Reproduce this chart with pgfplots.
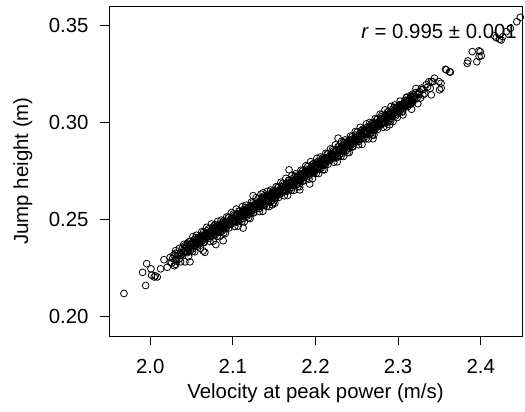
\documentclass[border=0pt]{standalone}
\usepackage{fontspec}
\setmainfont{Liberation Sans}
\usepackage{pgfplots}
\pgfplotsset{compat=1.18}
\begin{document}
\begin{tikzpicture}[font=\fontsize{20.4}{24}\selectfont]
\begin{axis}[
  scale only axis, width=413pt, height=330pt,
  xmin=1.95, xmax=2.45, ymin=0.19, ymax=0.36,
  axis line style={line width=0.9pt},
  tick style={line width=0.9pt, black},
  major tick length=9pt, tick align=outside,
  xtick pos=bottom, ytick pos=left,
  xtick={2.0,2.1,2.2,2.3,2.4}, ytick={0.20,0.25,0.30,0.35},
  /pgf/number format/assume math mode=true,
  xticklabel style={yshift=-11pt, /pgf/number format/fixed, /pgf/number format/fixed zerofill, /pgf/number format/precision=1},
  yticklabel style={xshift=-8pt, /pgf/number format/fixed, /pgf/number format/fixed zerofill, /pgf/number format/precision=2},
  tick label style={font=\fontsize{20.4}{24}\selectfont},
  label style={font=\fontsize{20.4}{24}\selectfont},
  xlabel={Velocity at peak power (m/s)},
  ylabel={Jump height (m)},
  xlabel style={at={(axis description cs:0.5,-0.1909)}, anchor=base},
  ylabel style={at={(axis description cs:-0.196,0.5)}, anchor=base, rotate=0},
  clip=true,
]
\addplot[only marks, mark=o, mark size=3.4pt, black, mark options={line width=0.8pt}] table {
x y
1.9681 0.2119
1.9944 0.2160
1.9907 0.2228
1.9956 0.2273
2.0008 0.2246
2.0016 0.2213
2.0048 0.2204
2.0060 0.2210
2.0084 0.2204
2.0125 0.2246
2.0165 0.2293
2.0205 0.2254
2.0241 0.2280
2.0240 0.2305
2.0258 0.2276
2.0270 0.2300
2.0285 0.2318
2.0290 0.2262
2.0307 0.2340
2.0319 0.2285
2.0367 0.2282
2.0419 0.2282
2.0451 0.2379
2.0480 0.2282
2.0580 0.2396
2.0640 0.2338
2.0661 0.2331
2.0782 0.2473
2.0794 0.2371
2.0882 0.2391
2.1124 0.2456
2.1245 0.2623
2.1366 0.2637
2.1479 0.2576
2.1680 0.2756
2.1810 0.2653
2.1930 0.2683
2.2273 0.2919
2.2696 0.2916
2.2898 0.2988
2.3059 0.3039
2.3100 0.3128
2.3300 0.3142
2.0302 0.2293
2.0308 0.2269
2.0331 0.2316
2.0352 0.2298
2.0368 0.2317
2.0393 0.2330
2.0405 0.2372
2.0411 0.2333
2.0435 0.2361
2.0446 0.2334
2.0463 0.2309
2.0474 0.2387
2.0486 0.2341
2.0497 0.2369
2.0501 0.2372
2.0509 0.2335
2.0516 0.2412
2.0527 0.2360
2.0533 0.2397
2.0539 0.2334
2.0551 0.2382
2.0558 0.2419
2.0571 0.2363
2.0579 0.2406
2.0602 0.2376
2.0613 0.2414
2.0608 0.2352
2.0624 0.2437
2.0631 0.2399
2.0643 0.2433
2.0652 0.2381
2.0661 0.2418
2.0668 0.2400
2.0682 0.2460
2.0693 0.2413
2.0705 0.2452
2.0711 0.2413
2.0722 0.2387
2.0735 0.2441
2.0741 0.2477
2.0746 0.2414
2.0755 0.2452
2.0763 0.2389
2.0774 0.2467
2.0786 0.2421
2.0797 0.2449
2.0801 0.2450
2.0809 0.2413
2.0816 0.2490
2.0827 0.2438
2.0833 0.2475
2.0839 0.2412
2.0851 0.2460
2.0858 0.2497
2.0871 0.2441
2.0879 0.2484
2.0889 0.2432
2.0902 0.2452
2.0913 0.2490
2.0908 0.2428
2.0924 0.2513
2.0931 0.2475
2.0943 0.2509
2.0952 0.2457
2.0961 0.2494
2.0968 0.2476
2.0982 0.2536
2.0993 0.2489
2.1005 0.2529
2.1011 0.2490
2.1022 0.2464
2.1035 0.2518
2.1041 0.2554
2.1046 0.2491
2.1055 0.2529
2.1063 0.2466
2.1074 0.2544
2.1086 0.2498
2.1097 0.2526
2.1101 0.2527
2.1109 0.2490
2.1116 0.2567
2.1127 0.2515
2.1133 0.2552
2.1139 0.2489
2.1151 0.2537
2.1158 0.2574
2.1171 0.2518
2.1179 0.2561
2.1189 0.2509
2.1202 0.2529
2.1213 0.2567
2.1208 0.2505
2.1224 0.2590
2.1231 0.2552
2.1243 0.2586
2.1252 0.2534
2.1261 0.2571
2.1268 0.2553
2.1282 0.2613
2.1293 0.2566
2.1305 0.2606
2.1311 0.2567
2.1322 0.2541
2.1335 0.2595
2.1341 0.2631
2.1346 0.2568
2.1355 0.2606
2.1363 0.2543
2.1374 0.2621
2.1386 0.2575
2.1397 0.2603
2.1401 0.2605
2.1409 0.2568
2.1416 0.2645
2.1427 0.2593
2.1433 0.2630
2.1439 0.2567
2.1451 0.2615
2.1458 0.2652
2.1471 0.2596
2.1479 0.2639
2.1489 0.2587
2.1502 0.2608
2.1513 0.2646
2.1508 0.2584
2.1524 0.2669
2.1531 0.2631
2.1543 0.2665
2.1552 0.2613
2.1561 0.2650
2.1568 0.2632
2.1582 0.2692
2.1593 0.2645
2.1605 0.2687
2.1611 0.2648
2.1622 0.2622
2.1635 0.2676
2.1641 0.2712
2.1646 0.2649
2.1655 0.2687
2.1663 0.2624
2.1674 0.2702
2.1686 0.2656
2.1697 0.2684
2.1701 0.2688
2.1709 0.2651
2.1716 0.2728
2.1727 0.2676
2.1733 0.2713
2.1739 0.2650
2.1751 0.2698
2.1758 0.2735
2.1771 0.2679
2.1779 0.2722
2.1789 0.2670
2.1802 0.2693
2.1813 0.2731
2.1808 0.2669
2.1824 0.2754
2.1831 0.2716
2.1843 0.2750
2.1852 0.2698
2.1861 0.2735
2.1868 0.2717
2.1882 0.2777
2.1893 0.2730
2.1905 0.2773
2.1911 0.2734
2.1922 0.2708
2.1935 0.2762
2.1941 0.2798
2.1946 0.2735
2.1955 0.2773
2.1963 0.2710
2.1974 0.2788
2.1986 0.2742
2.1997 0.2770
2.2001 0.2775
2.2009 0.2738
2.2016 0.2815
2.2027 0.2763
2.2033 0.2800
2.2039 0.2737
2.2051 0.2785
2.2058 0.2822
2.2071 0.2766
2.2079 0.2809
2.2089 0.2757
2.2102 0.2780
2.2113 0.2818
2.2108 0.2756
2.2124 0.2841
2.2131 0.2803
2.2143 0.2837
2.2152 0.2785
2.2161 0.2822
2.2168 0.2804
2.2182 0.2864
2.2193 0.2817
2.2205 0.2860
2.2211 0.2821
2.2222 0.2795
2.2235 0.2849
2.2241 0.2885
2.2246 0.2822
2.2255 0.2860
2.2263 0.2797
2.2274 0.2875
2.2286 0.2829
2.2297 0.2857
2.2301 0.2863
2.2309 0.2826
2.2316 0.2903
2.2327 0.2851
2.2333 0.2888
2.2339 0.2825
2.2351 0.2873
2.2358 0.2910
2.2371 0.2854
2.2379 0.2897
2.2389 0.2845
2.2402 0.2869
2.2413 0.2907
2.2408 0.2845
2.2424 0.2930
2.2431 0.2892
2.2443 0.2926
2.2452 0.2874
2.2461 0.2911
2.2468 0.2893
2.2482 0.2953
2.2493 0.2906
2.2505 0.2950
2.2511 0.2911
2.2522 0.2885
2.2535 0.2939
2.2541 0.2975
2.2546 0.2912
2.2555 0.2950
2.2563 0.2887
2.2574 0.2965
2.2586 0.2919
2.2597 0.2947
2.2601 0.2953
2.2609 0.2916
2.2616 0.2993
2.2627 0.2941
2.2633 0.2978
2.2639 0.2915
2.2651 0.2963
2.2658 0.3000
2.2671 0.2944
2.2679 0.2987
2.2689 0.2935
2.2702 0.2959
2.2713 0.2997
2.2708 0.2935
2.2724 0.3020
2.2731 0.2982
2.2743 0.3016
2.2752 0.2964
2.2761 0.3001
2.2768 0.2983
2.2782 0.3043
2.2793 0.2996
2.2805 0.3040
2.2811 0.3001
2.2822 0.2975
2.2835 0.3029
2.2841 0.3065
2.2846 0.3002
2.2855 0.3040
2.2863 0.2977
2.2874 0.3055
2.2886 0.3009
2.2897 0.3037
2.2901 0.3043
2.2909 0.3006
2.2916 0.3083
2.2927 0.3031
2.2933 0.3068
2.2939 0.3005
2.2951 0.3053
2.2958 0.3090
2.2971 0.3034
2.2979 0.3077
2.2989 0.3025
2.3002 0.3049
2.3013 0.3087
2.3024 0.3110
2.3031 0.3072
2.3052 0.3054
2.3061 0.3091
2.3068 0.3073
2.3082 0.3098
2.3093 0.3086
2.3105 0.3131
2.3111 0.3092
2.3135 0.3120
2.3146 0.3093
2.3155 0.3131
2.3163 0.3068
2.3174 0.3146
2.3197 0.3128
2.3201 0.3135
2.3216 0.3175
2.3227 0.3123
2.3239 0.3097
2.3251 0.3145
2.3271 0.3126
2.3279 0.3169
2.3305 0.3170
2.3322 0.3148
2.3341 0.3195
2.3358 0.3183
2.3372 0.3210
2.3389 0.3176
2.3402 0.3211
2.3402 0.3142
2.3420 0.3210
2.3440 0.3228
2.3494 0.3211
2.3502 0.3168
2.3520 0.3202
2.3522 0.3177
2.3575 0.3274
2.3584 0.3271
2.3623 0.3262
2.3632 0.3259
2.3837 0.3305
2.3845 0.3317
2.3898 0.3365
2.3953 0.3313
2.3978 0.3369
2.3980 0.3340
2.3994 0.3365
2.4007 0.3343
2.4167 0.3446
2.4188 0.3437
2.4228 0.3429
2.4248 0.3425
2.4268 0.3442
2.4310 0.3468
2.4360 0.3485
2.4437 0.3519
2.4480 0.3542
2.0306 0.2326
2.0318 0.2295
2.0329 0.2324
2.0340 0.2314
2.0353 0.2352
2.0364 0.2328
2.0377 0.2317
2.0390 0.2353
2.0403 0.2333
2.0414 0.2364
2.0425 0.2333
2.0437 0.2359
2.0448 0.2329
2.0459 0.2368
2.0470 0.2356
2.0484 0.2387
2.0506 0.2381
2.0518 0.2350
2.0529 0.2379
2.0540 0.2369
2.0553 0.2407
2.0564 0.2383
2.0577 0.2372
2.0590 0.2408
2.0603 0.2388
2.0614 0.2419
2.0625 0.2388
2.0637 0.2414
2.0648 0.2384
2.0659 0.2423
2.0670 0.2411
2.0684 0.2442
2.0706 0.2434
2.0718 0.2403
2.0729 0.2432
2.0740 0.2422
2.0753 0.2460
2.0764 0.2436
2.0777 0.2425
2.0790 0.2461
2.0803 0.2438
2.0814 0.2469
2.0825 0.2438
2.0837 0.2464
2.0848 0.2434
2.0859 0.2473
2.0870 0.2461
2.0884 0.2492
2.0906 0.2485
2.0918 0.2454
2.0929 0.2483
2.0940 0.2473
2.0953 0.2511
2.0964 0.2487
2.0977 0.2476
2.0990 0.2512
2.1003 0.2490
2.1014 0.2521
2.1025 0.2490
2.1037 0.2516
2.1048 0.2486
2.1059 0.2525
2.1070 0.2513
2.1084 0.2544
2.1106 0.2536
2.1118 0.2505
2.1129 0.2534
2.1140 0.2524
2.1153 0.2562
2.1164 0.2538
2.1177 0.2527
2.1190 0.2563
2.1203 0.2541
2.1214 0.2572
2.1225 0.2541
2.1237 0.2567
2.1248 0.2537
2.1259 0.2576
2.1270 0.2564
2.1284 0.2595
2.1306 0.2588
2.1318 0.2557
2.1329 0.2586
2.1340 0.2576
2.1353 0.2614
2.1364 0.2590
2.1377 0.2579
2.1390 0.2615
2.1403 0.2593
2.1414 0.2624
2.1425 0.2593
2.1437 0.2619
2.1448 0.2589
2.1459 0.2628
2.1470 0.2616
2.1484 0.2647
2.1506 0.2641
2.1518 0.2610
2.1529 0.2639
2.1540 0.2629
2.1553 0.2667
2.1564 0.2643
2.1577 0.2632
2.1590 0.2668
2.1603 0.2648
2.1614 0.2679
2.1625 0.2648
2.1637 0.2674
2.1648 0.2644
2.1659 0.2683
2.1670 0.2671
2.1684 0.2702
2.1706 0.2697
2.1718 0.2666
2.1729 0.2695
2.1740 0.2685
2.1753 0.2723
2.1764 0.2699
2.1777 0.2688
2.1790 0.2724
2.1803 0.2705
2.1814 0.2736
2.1825 0.2705
2.1837 0.2731
2.1848 0.2701
2.1859 0.2740
2.1870 0.2728
2.1884 0.2759
2.1906 0.2755
2.1918 0.2724
2.1929 0.2753
2.1940 0.2743
2.1953 0.2781
2.1964 0.2757
2.1977 0.2746
2.1990 0.2782
2.2003 0.2763
2.2014 0.2794
2.2025 0.2763
2.2037 0.2789
2.2048 0.2759
2.2059 0.2798
2.2070 0.2786
2.2084 0.2817
2.2106 0.2813
2.2118 0.2782
2.2129 0.2811
2.2140 0.2801
2.2153 0.2839
2.2164 0.2815
2.2177 0.2804
2.2190 0.2840
2.2203 0.2821
2.2214 0.2852
2.2225 0.2821
2.2237 0.2847
2.2248 0.2817
2.2259 0.2856
2.2270 0.2844
2.2284 0.2875
2.2306 0.2872
2.2318 0.2841
2.2329 0.2870
2.2340 0.2860
2.2353 0.2898
2.2364 0.2874
2.2377 0.2863
2.2390 0.2899
2.2403 0.2881
2.2414 0.2912
2.2425 0.2881
2.2437 0.2907
2.2448 0.2877
2.2459 0.2916
2.2470 0.2904
2.2484 0.2935
2.2506 0.2932
2.2518 0.2901
2.2529 0.2930
2.2540 0.2920
2.2553 0.2958
2.2564 0.2934
2.2577 0.2923
2.2590 0.2959
2.2603 0.2941
2.2614 0.2972
2.2625 0.2941
2.2637 0.2967
2.2648 0.2937
2.2659 0.2976
2.2670 0.2964
2.2684 0.2995
2.2706 0.2992
2.2718 0.2961
2.2729 0.2990
2.2740 0.2980
2.2753 0.3018
2.2764 0.2994
2.2777 0.2983
2.2790 0.3019
2.2803 0.3001
2.2814 0.3032
2.2825 0.3001
2.2837 0.3027
2.2848 0.2997
2.2859 0.3036
2.2870 0.3024
2.2884 0.3055
2.2906 0.3052
2.2918 0.3021
2.2929 0.3050
2.2940 0.3040
2.2953 0.3078
2.2964 0.3054
2.2977 0.3043
2.2990 0.3079
2.3003 0.3061
2.3014 0.3092
2.3025 0.3061
2.3037 0.3087
2.3048 0.3057
2.3059 0.3096
2.3070 0.3084
2.3084 0.3115
2.3106 0.3113
2.3118 0.3082
2.3129 0.3111
2.3140 0.3101
2.3153 0.3139
2.3164 0.3115
2.3177 0.3104
2.3190 0.3140
2.3203 0.3123
2.3214 0.3154
2.3237 0.3149
2.3259 0.3158
2.3284 0.3177
2.0409 0.2348
2.0426 0.2336
2.0444 0.2361
2.0461 0.2352
2.0478 0.2373
2.0495 0.2360
2.0509 0.2375
2.0526 0.2363
2.0544 0.2388
2.0561 0.2379
2.0578 0.2400
2.0595 0.2387
2.0609 0.2403
2.0626 0.2391
2.0644 0.2416
2.0661 0.2407
2.0678 0.2428
2.0695 0.2415
2.0709 0.2428
2.0726 0.2416
2.0744 0.2441
2.0761 0.2432
2.0778 0.2453
2.0795 0.2440
2.0809 0.2453
2.0826 0.2441
2.0844 0.2466
2.0861 0.2457
2.0878 0.2478
2.0895 0.2465
2.0909 0.2479
2.0926 0.2467
2.0944 0.2492
2.0961 0.2483
2.0978 0.2504
2.0995 0.2491
2.1009 0.2505
2.1026 0.2493
2.1044 0.2518
2.1061 0.2509
2.1078 0.2530
2.1095 0.2517
2.1109 0.2530
2.1126 0.2518
2.1144 0.2543
2.1161 0.2534
2.1178 0.2555
2.1195 0.2542
2.1209 0.2556
2.1226 0.2544
2.1244 0.2569
2.1261 0.2560
2.1278 0.2581
2.1295 0.2568
2.1309 0.2582
2.1326 0.2570
2.1344 0.2595
2.1361 0.2586
2.1378 0.2607
2.1395 0.2594
2.1409 0.2608
2.1426 0.2596
2.1444 0.2621
2.1461 0.2612
2.1478 0.2633
2.1495 0.2620
2.1509 0.2635
2.1526 0.2623
2.1544 0.2648
2.1561 0.2639
2.1578 0.2660
2.1595 0.2647
2.1609 0.2663
2.1626 0.2651
2.1644 0.2676
2.1661 0.2667
2.1678 0.2688
2.1695 0.2675
2.1709 0.2691
2.1726 0.2679
2.1744 0.2704
2.1761 0.2695
2.1778 0.2716
2.1795 0.2703
2.1809 0.2720
2.1826 0.2708
2.1844 0.2733
2.1861 0.2724
2.1878 0.2745
2.1895 0.2732
2.1909 0.2749
2.1926 0.2737
2.1944 0.2762
2.1961 0.2753
2.1978 0.2774
2.1995 0.2761
2.2009 0.2778
2.2026 0.2766
2.2044 0.2791
2.2061 0.2782
2.2078 0.2803
2.2095 0.2790
2.2109 0.2807
2.2126 0.2795
2.2144 0.2820
2.2161 0.2811
2.2178 0.2832
2.2195 0.2819
2.2209 0.2836
2.2226 0.2824
2.2244 0.2849
2.2261 0.2840
2.2278 0.2861
2.2295 0.2848
2.2309 0.2866
2.2326 0.2854
2.2344 0.2879
2.2361 0.2870
2.2378 0.2891
2.2395 0.2878
2.2409 0.2896
2.2426 0.2884
2.2444 0.2909
2.2461 0.2900
2.2478 0.2921
2.2495 0.2908
2.2509 0.2926
2.2526 0.2914
2.2544 0.2939
2.2561 0.2930
2.2578 0.2951
2.2595 0.2938
2.2609 0.2956
2.2626 0.2944
2.2644 0.2969
2.2661 0.2960
2.2678 0.2981
2.2695 0.2968
2.2709 0.2986
2.2726 0.2974
2.2744 0.2999
2.2761 0.2990
2.2778 0.3011
2.2795 0.2998
2.2809 0.3016
2.2826 0.3004
2.2844 0.3029
2.2861 0.3020
2.2878 0.3041
2.2895 0.3028
2.2909 0.3046
2.2926 0.3034
2.2944 0.3059
2.2961 0.3050
2.2978 0.3071
2.2995 0.3058
2.3009 0.3076
2.3026 0.3064
2.3044 0.3089
2.3061 0.3080
2.3078 0.3101
2.3095 0.3088
2.3109 0.3107
2.3126 0.3095
2.3144 0.3120
2.3161 0.3111
2.3178 0.3132
2.3195 0.3119
};
\node[anchor=base east, inner sep=0pt, font=\fontsize{20.4}{24}\selectfont] at (rel axis cs:0.988,0.902) {\textit{r} = 0.995 ± 0.001};
\end{axis}
\pgfresetboundingbox
\path[use as bounding box] (current axis.south west) ++(-109pt,-76pt) rectangle ++(525pt,412pt);
\end{tikzpicture}
\end{document}
